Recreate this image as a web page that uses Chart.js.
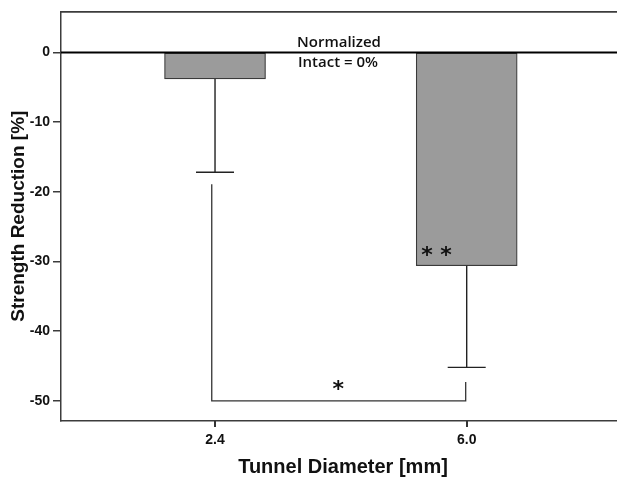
<!DOCTYPE html>
<html>
<head>
<meta charset="utf-8">
<script src="https://cdn.jsdelivr.net/npm/chart.js@4.4.1/dist/chart.umd.min.js"></script>
<style>
  html, body { margin: 0; padding: 0; background: #fff; overflow: hidden; }
  #wrap { width: 630px; height: 479px; }
</style>
</head>
<body>
<div id="wrap"><canvas id="chart" width="630" height="479"></canvas></div>
<script>
// tunnel diameters (mm) and mean strength reduction (%)
const categories = ['2.4', '6.0']
const reduction = [-3.8, -30.6]
const errorLow = [-17.2, -45.2]
const yTicks = [0, -10, -20, -30, -40, -50]

// significance bracket between the two groups
const bracketX = [-0.013, -0.013, 0.996, 0.996]
const bracketY = [-18.9, -50, -50, -47.3]

const axisColor = '#3c3c3c'

const extras = {
  id: 'extras',
  afterDraw (chart) {
    const { ctx, chartArea: area, scales: { x, y } } = chart
    ctx.save()
    ctx.strokeStyle = axisColor
    ctx.lineWidth = 1.6
    ctx.beginPath()
    // frame top
    ctx.moveTo(area.left, area.top + 0.5)
    ctx.lineTo(area.right, area.top + 0.5)
    ctx.stroke()

    // x tick marks
    const base = y.getPixelForValue(y.min)
    ctx.fillStyle = '#333'
    categories.forEach((c, i) => {
      const px = Math.round(x.getPixelForValue(i))
      ctx.fillRect(px - 1, base, 2, 6)
    })

    // error bars (lower half only)
    ctx.strokeStyle = '#222'
    ctx.lineWidth = 1.4
    reduction.forEach((v, i) => {
      const px = x.getPixelForValue(i)
      const top = y.getPixelForValue(v)
      const bot = y.getPixelForValue(errorLow[i])
      ctx.beginPath()
      ctx.moveTo(px, top)
      ctx.lineTo(px, bot)
      ctx.moveTo(px - 19, bot)
      ctx.lineTo(px + 19, bot)
      ctx.stroke()
    })

    // zero reference line
    const y0 = y.getPixelForValue(0)
    ctx.strokeStyle = '#000'
    ctx.lineWidth = 2.2
    ctx.beginPath()
    ctx.moveTo(area.left, y0)
    ctx.lineTo(area.right, y0)
    ctx.stroke()

    // annotations
    ctx.fillStyle = '#111'
    ctx.textBaseline = 'alphabetic'
    ctx.textAlign = 'left'
    ctx.font = '600 15px "Open Sans"'
    ctx.fillText('Normalized', 297, 47)
    ctx.fillText('Intact = 0%', 298, 67)

    ctx.textAlign = 'center'
    ctx.textBaseline = 'middle'
    ctx.font = 'bold 22px "DejaVu Sans"'
    ctx.fillText('* *', x.getPixelForValue(0.88), y.getPixelForValue(-29.2))
    ctx.fillText('*', x.getPixelForValue(0.49), y.getPixelForValue(-48.5))
    ctx.restore()
  }
}

new Chart(document.getElementById('chart'), {
  type: 'bar',
  data: {
    datasets: [{
      data: reduction.map((v, i) => ({ x: i, y: v })),
      backgroundColor: '#9b9b9b',
      borderColor: '#3a3a3a',
      borderWidth: 1.2,
      borderSkipped: false,
      barThickness: 101
    }, {
      type: 'line',
      data: bracketX.map((v, i) => ({ x: v, y: bracketY[i] })),
      borderColor: '#333',
      borderWidth: 1.3,
      pointRadius: 0,
      fill: false
    }]
  },
  options: {
    responsive: false,
    animation: false,
    layout: { padding: { top: 9, right: 5, bottom: 0, left: 0 } },
    plugins: {
      legend: { display: false },
      tooltip: { enabled: false }
    },
    scales: {
      x: {
        type: 'linear',
        offset: false,
        min: -0.612,
        max: 1.629,
        afterBuildTicks: (axis) => { axis.ticks = categories.map((c, i) => ({ value: i })) },
        afterFit: (axis) => { axis.height = 58 },
        ticks: {
          callback: (v) => categories[v],
          color: '#111',
          padding: 5,
          font: { family: '"Liberation Sans Narrow", "Liberation Sans"', size: 14, weight: 'bold' }
        },
        grid: { offset: false, drawOnChartArea: false, tickLength: 6, color: axisColor, lineWidth: 1.5 },
        border: { color: axisColor, width: 1.5 },
        title: {
          display: true,
          text: 'Tunnel Diameter [mm]',
          color: '#111',
          padding: { top: 0, bottom: 0 },
          font: { family: '"Liberation Sans"', size: 20, weight: 'bold' }
        }
      },
      y: {
        min: -52.9,
        max: 5.9,
        afterBuildTicks: (axis) => { axis.ticks = yTicks.map(v => ({ value: v })) },
        afterFit: (axis) => { axis.width = 61 },
        ticks: {
          color: '#111',
          padding: 3,
          font: { family: '"Liberation Sans Narrow", "Liberation Sans"', size: 14, weight: 'bold' }
        },
        grid: { drawOnChartArea: false, tickLength: 8, color: axisColor, lineWidth: 1.5 },
        border: { color: axisColor, width: 1.5 },
        title: {
          display: true,
          text: 'Strength Reduction [%]',
          color: '#111',
          padding: { top: 7, bottom: 0 },
          font: { family: '"Liberation Sans"', size: 19, weight: 'bold' }
        }
      }
    }
  },
  plugins: [extras]
})
</script>
</body>
</html>
